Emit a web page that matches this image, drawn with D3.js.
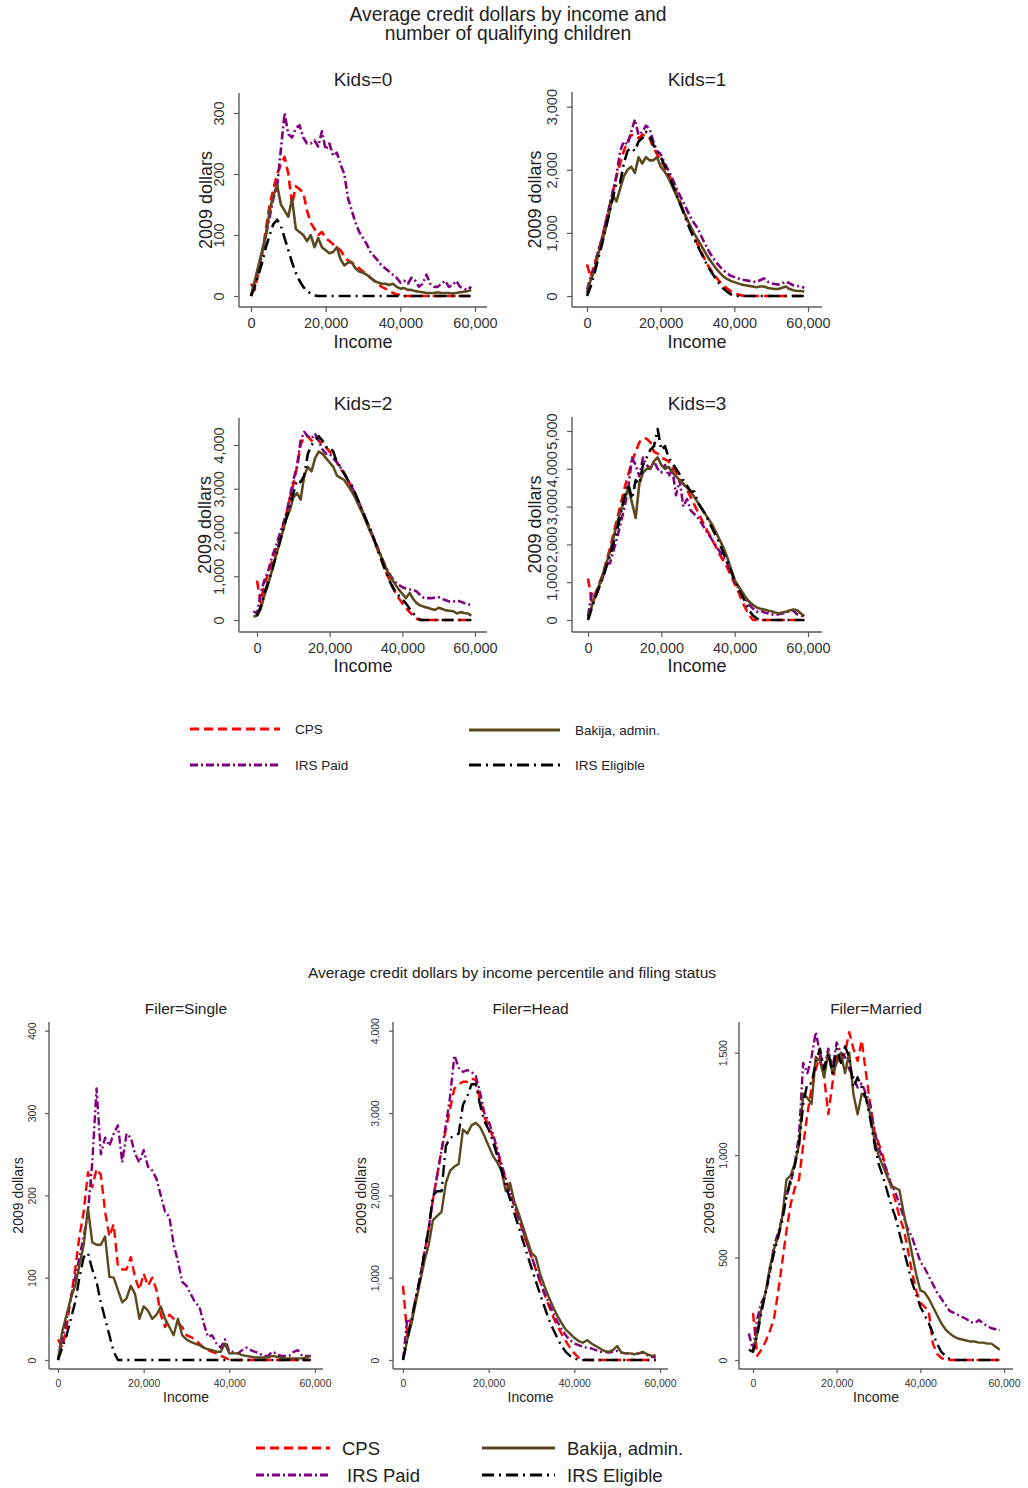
<!DOCTYPE html>
<html>
<head>
<meta charset="utf-8">
<script src="https://cdn.jsdelivr.net/npm/d3@7"></script>
<style>
  body { margin: 0; background: #fff; }
  svg { display: block; font-family: "Liberation Sans", Arial, sans-serif; }
</style>
</head>
<body>
<div id="chart"></div>
<script>
// income grid (dollars), shared by every panel
const income = [-1000, 0, 1000, 2000, 3000, 4000, 5000, 6000, 7000, 8000, 9000,
  10000, 11000, 12000, 13000, 14000, 15000, 16000, 17000, 18000, 19000,
  20000, 21000, 22000, 23000, 24000, 25000, 26000, 27000, 28000, 29000,
  30000, 31000, 32000, 33000, 34000, 35000, 36000, 37000, 38000, 39000,
  40000, 41000, 42000, 43000, 44000, 45000, 46000, 47000, 48000, 49000,
  50000, 51000, 52000, 53000, 54000, 55000, 56000, 57000, 58000, 59000];

const xTicks = [0, 20000, 40000, 60000];
const legendLabels = ["CPS", "Bakija, admin.", "IRS Paid", "IRS Eligible"];

// ---- Kids=0
const kids0Cps = [null, 20,10,40,70,110,150,175,200,215,228, 200,150,180,175,170,140,120,110,100,105, 95,90,85,80,75,65,58,55,50,45, 40,35,30,25,20,15,12,8,5,3, 2,0,0,0,0,0,0,0,0,0, 0,0,0,0,0,0,0,0,0,0];
const kids0Bakija = [null, 0,25,50,75,100,140,165,182,150,140, 130,160,110,105,100,90,100,80,95,80, 75,70,72,80,60,50,55,55,45,40, 38,35,30,25,22,20,20,18,20,15, 12,13,10,10,8,7,6,5,5,5, 6,5,5,5,4,5,6,7,8,10];
const kids0Paid = [null, 0,20,45,70,100,130,160,180,240,300, 265,260,275,280,260,250,250,255,245,270, 240,250,230,235,215,200,160,140,120,105, 95,85,72,65,58,50,45,40,35,30, 22,25,20,30,25,15,20,35,20,15, 15,20,25,15,18,25,15,12,10,15];
const kids0Elig = [null, 0,15,35,55,80,100,118,125,115,95, 75,55,38,25,15,8,4,1,0,0, 0,0,0,0,0,0,0,0,0,0, 0,0,0,0,0,0,0,0,0,0, 0,0,0,0,0,0,0,0,0,0, 0,0,0,0,0,0,0,0,0,0];

// ---- Kids=1
const kids1Cps = [null, 500,300,500,700,900,1150,1400,1650,1900,2100, 2300,2450,2550,2550,2500,2550,2550,2500,2350,2250, 2150,2050,1950,1820,1680,1530,1380,1230,1080,940, 820,700,580,470,380,300,230,170,120,80, 50,25,10,0,0,0,0,0,0,0, 0,0,0,0,0,0,0,0,0,0];
const kids1Bakija = [null, 50,250,400,650,850,1050,1300,1600,1500,1700, 1900,2000,2050,1950,2200,2100,2200,2150,2150,2200, 2050,1980,1880,1760,1630,1500,1370,1240,1120,1000, 900,800,700,600,520,440,370,310,270,240, 220,200,180,170,160,150,140,150,150,130, 120,110,110,130,150,110,90,80,80,70];
const kids1Paid = [null, 100,300,450,700,900,1150,1400,1650,1900,2300, 2450,2400,2600,2800,2550,2600,2700,2650,2450,2300, 2250,2120,2000,1880,1750,1620,1500,1380,1260,1160, 1080,950,830,720,620,540,470,410,360,320, 300,280,260,250,240,230,220,250,280,230, 200,190,180,200,230,200,170,160,150,130];
const kids1Elig = [null, 0,150,350,580,800,1050,1300,1550,1800,1800, 2100,2300,2350,2300,2450,2500,2600,2550,2400,2300, 2200,2080,1950,1800,1650,1500,1350,1200,1050,920, 800,680,560,450,360,270,190,120,70,30, 0,0,0,0,0,0,0,0,0,0, 0,0,0,0,0,0,0,0,0,0];

// ---- Kids=2
const kids2Cps = [null, 900,400,800,1050,1300,1550,1800,2100,2400,2750, 3100,3500,4000,4200,4200,4100,4200,4100,4000,3950, 3850,3750,3600,3450,3350,3200,3050,2880,2680,2480, 2280,2080,1870,1650,1420,1200,1000,820,650,500, 380,280,180,100,30,0,0,0,0,0, 0,0,0,0,0,0,0,0,0,0];
const kids2Bakija = [80, 100,250,550,800,1100,1400,1700,2000,2300,2500, 2800,2900,2750,3300,3500,3400,3700,3850,3800,3700, 3600,3500,3300,3250,3200,3080,2950,2800,2620,2450, 2250,2050,1880,1680,1480,1280,1100,950,820,700, 600,500,620,480,380,330,300,280,250,230, 280,250,220,210,200,150,180,160,150,100];
const kids2Paid = [200, 150,600,900,1100,1400,1650,1900,2150,2400,2800, 3200,3500,4100,4300,4200,4150,4250,4100,3900,3800, 3800,3700,3600,3480,3350,3200,3050,2880,2700,2500, 2300,2100,1900,1700,1500,1300,1120,980,870,800, 750,720,700,690,650,560,500,500,500,510, 520,480,450,420,420,450,420,390,360,340];
const kids2Elig = [null, 100,300,600,850,1100,1400,1700,2000,2300,2600, 2900,3200,3150,3300,3800,4000,4100,4200,4100,3950, 3950,3850,3600,3500,3350,3200,3100,2900,2700,2500, 2300,2100,1900,1650,1450,1200,1000,800,650,560, 470,380,260,150,60,0,0,0,0,0, 0,0,0,0,0,0,0,0,0,0];

// ---- Kids=3
const kids3Cps = [null, 1100,500,700,950,1200,1550,1900,2300,2700,3100, 3500,3850,4200,4450,4700,4800,4800,4700,4450,4400, 4300,4250,4200,4050,3900,3750,3600,3450,3250,3050, 2850,2650,2450,2280,2100,1900,1720,1550,1380,1180, 950,750,500,300,120,0,0,0,0,0, 0,0,0,0,0,0,0,0,0,0];
const kids3Bakija = [null, 50,350,650,900,1200,1500,1800,2200,2600,2900, 3200,3500,3100,2700,3600,3900,4000,4000,4200,4300, 4100,4000,4050,3900,3800,3700,3600,3500,3400,3250, 3100,2950,2800,2650,2500,2300,2100,1900,1650,1350, 1050,900,750,600,480,400,330,300,280,250, 230,200,180,200,220,250,280,260,180,100];
const kids3Paid = [null, 100,700,600,900,1100,1500,1500,1850,2200,2600, 3000,3500,4300,4100,3800,4300,4100,4000,4200,4000, 3900,4100,3800,4000,3300,3700,3000,3200,2900,2800, 2700,2550,2400,2250,2100,1950,1800,1650,1500,1250, 1000,850,700,550,400,300,220,250,200,180, 150,130,150,170,200,230,250,150,130,80];
const kids3Elig = [null, 0,300,600,850,1100,1400,1700,2050,2400,2850, 3300,3600,3200,3700,3600,4100,4300,4500,4600,5050, 4500,4600,4300,4150,4000,3850,3700,3550,3400,3400, 3100,2950,2800,2600,2400,2200,2000,1750,1550,1300, 1050,850,650,450,250,120,40,0,0,0, 0,0,0,0,0,0,0,0,0,0];

// ---- Filer=Single
const singleCps = [null, 25,15,40,75,110,150,180,228,210,232, 225,180,150,165,113,110,110,125,100,85, 105,90,100,85,55,40,55,50,45,40, 30,28,25,20,15,12,10,8,5,3, 0,0,0,0,0,0,0,0,0,0, 0,0,0,0,0,0,0,0,0,0];
const singleBakija = [null, 0,35,55,75,90,115,140,184,143,140, 140,150,101,100,85,70,75,90,80,50, 65,60,50,55,65,50,40,30,50,30, 25,22,20,18,15,13,12,10,10,20, 8,8,8,6,5,4,3,3,3,3, 5,4,3,2,2,2,2,2,3,5];
const singlePaid = [null, 0,25,50,75,100,125,150,180,240,330, 250,270,260,275,285,240,275,270,250,240, 255,235,230,220,200,180,174,140,120,95, 90,80,70,65,45,28,30,20,15,25, 10,10,8,12,15,12,10,8,5,5, 10,8,5,5,5,10,12,5,5,5];
const singleElig = [null, 0,15,30,50,70,100,125,130,110,95, 70,50,30,10,0,0,0,0,0,0, 0,0,0,0,0,0,0,0,0,0, 0,0,0,0,0,0,0,0,0,0, 0,0,0,0,0,0,0,0,0,0, 0,0,0,0,0,0,0,0,0,0];

// ---- Filer=Head
const headCps = [null, 900,300,500,750,1000,1300,1600,1950,2250,2550, 2800,3050,3300,3350,3380,3380,3420,3400,3150,2950, 2850,2700,2520,2350,2180,2020,1870,1720,1560,1400, 1250,1100,950,800,660,530,420,320,230,150, 80,30,10,0,0,0,0,0,0,0, 0,0,0,0,0,0,0,0,0,0];
const headBakija = [null, 0,250,450,700,950,1200,1400,1700,1750,1800, 2150,2300,2350,2380,2800,2750,2850,2880,2830,2720, 2600,2480,2400,2300,2050,2150,1920,1780,1620,1460, 1300,1250,1050,900,770,650,540,450,370,320, 270,230,210,240,200,170,140,110,100,120, 170,90,80,80,70,80,100,70,50,60];
const headPaid = [null, 0,500,450,750,1000,1300,1600,1950,2250,2550, 2850,3200,3700,3550,3500,3520,3500,3450,3250,3000, 2900,2750,2560,2380,2200,2040,1880,1730,1570,1410, 1260,1110,960,820,700,580,470,380,300,240, 200,180,160,150,140,120,100,100,90,100, 110,90,80,80,70,80,90,60,40,30];
const headElig = [null, 0,250,500,750,1000,1300,1600,2000,2050,2050, 2600,2700,2720,2750,3100,3200,3350,3350,3100,2900, 2800,2650,2480,2300,2120,1950,1780,1620,1450,1280, 1120,960,800,650,500,380,270,170,100,50, 20,0,0,0,0,0,0,0,0,0, 0,0,0,0,0,0,0,0,0,0];

// ---- Filer=Married
const marriedCps = [null, 230,20,50,90,140,200,330,480,630,760, 840,880,1050,1200,1330,1420,1480,1380,1200,1350, 1480,1450,1500,1600,1520,1460,1560,1400,1250,1120, 1060,1000,920,850,780,700,640,540,430,340, 280,260,240,80,30,10,0,0,0,0, 0,0,0,0,0,0,0,0,0,0];
const marriedBakija = [null, 40,130,250,330,450,540,600,700,880,900, 960,1050,1300,1280,1250,1480,1460,1380,1500,1400, 1450,1500,1400,1500,1300,1200,1300,1280,1200,1080, 1000,950,900,850,840,830,720,620,520,420, 340,330,300,260,220,180,150,130,115,105, 100,95,90,90,85,85,80,80,65,50];
const marriedPaid = [130, 50,200,280,320,420,560,620,700,800,860, 960,1100,1450,1400,1480,1600,1500,1420,1520,1420, 1550,1500,1480,1420,1380,1330,1350,1300,1250,1120, 1040,980,920,860,820,760,700,640,600,540, 480,450,410,370,330,300,270,240,230,220, 210,200,185,180,195,180,165,155,150,145];
const marriedElig = [50, 40,120,230,330,430,520,600,680,800,880, 950,1050,1250,1350,1350,1450,1520,1420,1500,1400, 1520,1450,1530,1480,1330,1380,1330,1280,1180,1060, 960,900,830,760,700,620,540,460,380,320, 260,220,180,130,80,40,20,5,0,0, 0,0,0,0,0,0,0,0,0,0];

// ---------------------------------------------------------------
const W = 1028, H = 1488;
const fmt = d3.format(",");
const axisColor = "#5b5b5b";

const styles = {
  cps:    { color: "#ff0000", dash: "9,5" },
  paid:   { color: "#80007f", dash: "8,3,2,3" },
  bakija: { color: "#5c4a1e", dash: null },
  elig:   { color: "#000000", dash: "12,5,2,5" }
};
const drawOrder = ["cps", "paid", "bakija", "elig"];

const svg = d3.select("#chart").append("svg")
  .attr("width", W)
  .attr("height", H);

// top figure: sizes
const big = { tickFont: 14.5, axisFont: 18, titleFont: 19, lw: 2.6, tick: 5, xLab: 21, titleY: 6 };
// bottom figure: sizes
const small = { tickFont: 10.5, axisFont: 14, titleFont: 15.5, lw: 2.4, tick: 4, xLab: 18, titleY: 5 };

const panels = [
  { title: "Kids=0", s: big, data: { cps: kids0Cps, bakija: kids0Bakija, paid: kids0Paid, elig: kids0Elig },
    ax: 239, ay: 307, top: 93, right: 487, x0: 251, x60: 475, y0: 296, yTop: 113, yTicks: [0, 100, 200, 300],
    yLabOff: 15, yTitleOff: 27, titleBase: 86, incomeBase: 348 },
  { title: "Kids=1", s: big, data: { cps: kids1Cps, bakija: kids1Bakija, paid: kids1Paid, elig: kids1Elig },
    ax: 572, ay: 307, top: 92, right: 822, x0: 587, x60: 808, y0: 296, yTop: 106.7, yTicks: [0, 1000, 2000, 3000],
    yLabOff: 15, yTitleOff: 31, titleBase: 86, incomeBase: 348 },
  { title: "Kids=2", s: big, data: { cps: kids2Cps, bakija: kids2Bakija, paid: kids2Paid, elig: kids2Elig },
    ax: 239, ay: 632, top: 418, right: 487, x0: 257, x60: 475, y0: 620, yTop: 445, yTicks: [0, 1000, 2000, 3000, 4000],
    yLabOff: 15, yTitleOff: 28, titleBase: 410, incomeBase: 672 },
  { title: "Kids=3", s: big, data: { cps: kids3Cps, bakija: kids3Bakija, paid: kids3Paid, elig: kids3Elig },
    ax: 572, ay: 632, top: 417, right: 822, x0: 588, x60: 808, y0: 620, yTop: 431, yTicks: [0, 1000, 2000, 3000, 4000, 5000],
    yLabOff: 15, yTitleOff: 31, titleBase: 410, incomeBase: 672 },
  { title: "Filer=Single", s: small, data: { cps: singleCps, bakija: singleBakija, paid: singlePaid, elig: singleElig },
    ax: 49, ay: 1369, top: 1022, right: 323, x0: 58, x60: 315, y0: 1360, yTop: 1030.7, yTicks: [0, 100, 200, 300, 400],
    yLabOff: 13, yTitleOff: 26, titleBase: 1014, incomeBase: 1402 },
  { title: "Filer=Head", s: small, data: { cps: headCps, bakija: headBakija, paid: headPaid, elig: headElig },
    ax: 393, ay: 1369, top: 1022, right: 668, x0: 403, x60: 660, y0: 1360, yTop: 1030.7, yTicks: [0, 1000, 2000, 3000, 4000],
    yLabOff: 14, yTitleOff: 27, titleBase: 1014, incomeBase: 1402 },
  { title: "Filer=Married", s: small, data: { cps: marriedCps, bakija: marriedBakija, paid: marriedPaid, elig: marriedElig },
    ax: 739, ay: 1369, top: 1022, right: 1013, x0: 753, x60: 1004, y0: 1360, yTop: 1052.7, yTicks: [0, 500, 1000, 1500],
    yLabOff: 12, yTitleOff: 25, titleBase: 1014, incomeBase: 1402 }
];

function drawPanel(p) {
  const s = p.s;
  const g = svg.append("g");
  const yMax = p.yTicks[p.yTicks.length - 1];
  const x = d3.scaleLinear().domain([0, 60000]).range([p.x0, p.x60]);
  const y = d3.scaleLinear().domain([0, yMax]).range([p.y0, p.yTop]);

  // axis lines
  g.append("line")
    .attr("x1", p.ax).attr("x2", p.ax).attr("y1", p.top).attr("y2", p.ay)
    .attr("stroke", axisColor).attr("stroke-width", 1.4);
  g.append("line")
    .attr("x1", p.ax).attr("x2", p.right).attr("y1", p.ay).attr("y2", p.ay)
    .attr("stroke", axisColor).attr("stroke-width", 1.4);

  // y axis, labels turned upright like Stata
  const ya = g.append("g")
    .attr("transform", `translate(${p.ax},0)`)
    .call(d3.axisLeft(y).tickValues(p.yTicks).tickSize(s.tick).tickPadding(0).tickFormat(fmt));
  ya.attr("font-size", s.tickFont).attr("font-family", null);
  ya.select(".domain").remove();
  ya.selectAll(".tick line").attr("stroke", axisColor).attr("stroke-width", 1.2);
  ya.selectAll(".tick text")
    .attr("transform", "rotate(-90)")
    .attr("x", 0).attr("y", -p.yLabOff).attr("dy", null)
    .attr("text-anchor", "middle")
    .attr("fill", "#333");

  // x axis
  const xa = g.append("g")
    .attr("transform", `translate(0,${p.ay})`)
    .call(d3.axisBottom(x).tickValues(xTicks).tickSize(s.tick).tickFormat(fmt));
  xa.attr("font-size", s.tickFont).attr("font-family", null);
  xa.select(".domain").remove();
  xa.selectAll(".tick line").attr("stroke", axisColor).attr("stroke-width", 1.2);
  xa.selectAll(".tick text").attr("y", s.xLab).attr("dy", null).attr("fill", "#333");

  // titles
  const midX = (p.ax + p.right) / 2;
  g.append("text").attr("x", midX).attr("y", p.titleBase)
    .attr("text-anchor", "middle").attr("font-size", s.titleFont).attr("fill", "#222")
    .text(p.title);
  g.append("text").attr("x", midX).attr("y", p.incomeBase)
    .attr("text-anchor", "middle").attr("font-size", s.axisFont).attr("fill", "#222")
    .text("Income");
  const midY = (p.top + p.ay) / 2;
  g.append("text")
    .attr("transform", `translate(${p.ax - p.yTitleOff},${midY}) rotate(-90)`)
    .attr("text-anchor", "middle").attr("font-size", s.axisFont).attr("fill", "#222")
    .text("2009 dollars");

  // series
  const line = d3.line()
    .defined(d => d[1] != null)
    .x(d => x(d[0]))
    .y(d => y(d[1]));
  drawOrder.forEach(key => {
    const vals = p.data[key];
    const pts = income.map((v, i) => [v, vals[i]]);
    g.append("path")
      .datum(pts)
      .attr("d", line)
      .attr("fill", "none")
      .attr("stroke", styles[key].color)
      .attr("stroke-width", s.lw)
      .attr("stroke-linejoin", "round")
      .attr("stroke-dasharray", styles[key].dash);
  });
}

panels.forEach(drawPanel);

// main titles
svg.append("text").attr("x", 508).attr("y", 21).attr("text-anchor", "middle")
  .attr("font-size", 19.3).attr("fill", "#222").text("Average credit dollars by income and");
svg.append("text").attr("x", 508).attr("y", 40).attr("text-anchor", "middle")
  .attr("font-size", 19.3).attr("fill", "#222").text("number of qualifying children");
svg.append("text").attr("x", 512).attr("y", 978).attr("text-anchor", "middle")
  .attr("font-size", 15.5).attr("fill", "#222").text("Average credit dollars by income percentile and filing status");

// legends
const legendKeys = ["cps", "bakija", "paid", "elig"];
function drawLegend(items, font, lw) {
  items.forEach((it, i) => {
    const key = legendKeys[i];
    svg.append("line")
      .attr("x1", it.x1).attr("x2", it.x2).attr("y1", it.y).attr("y2", it.y)
      .attr("stroke", styles[key].color).attr("stroke-width", lw)
      .attr("stroke-dasharray", styles[key].dash);
    svg.append("text")
      .attr("x", it.tx).attr("y", it.y + font * 0.36)
      .attr("font-size", font).attr("fill", "#222")
      .text(legendLabels[i]);
  });
}
drawLegend([
  { x1: 190, x2: 280, y: 729, tx: 295 },
  { x1: 469, x2: 560, y: 730, tx: 575 },
  { x1: 190, x2: 280, y: 765, tx: 295 },
  { x1: 469, x2: 560, y: 765, tx: 575 }
], 13.5, 3);
drawLegend([
  { x1: 256, x2: 330, y: 1448, tx: 342 },
  { x1: 482, x2: 555, y: 1448, tx: 567 },
  { x1: 256, x2: 330, y: 1475, tx: 347 },
  { x1: 482, x2: 555, y: 1475, tx: 567 }
], 18.5, 3);
</script>
</body>
</html>
